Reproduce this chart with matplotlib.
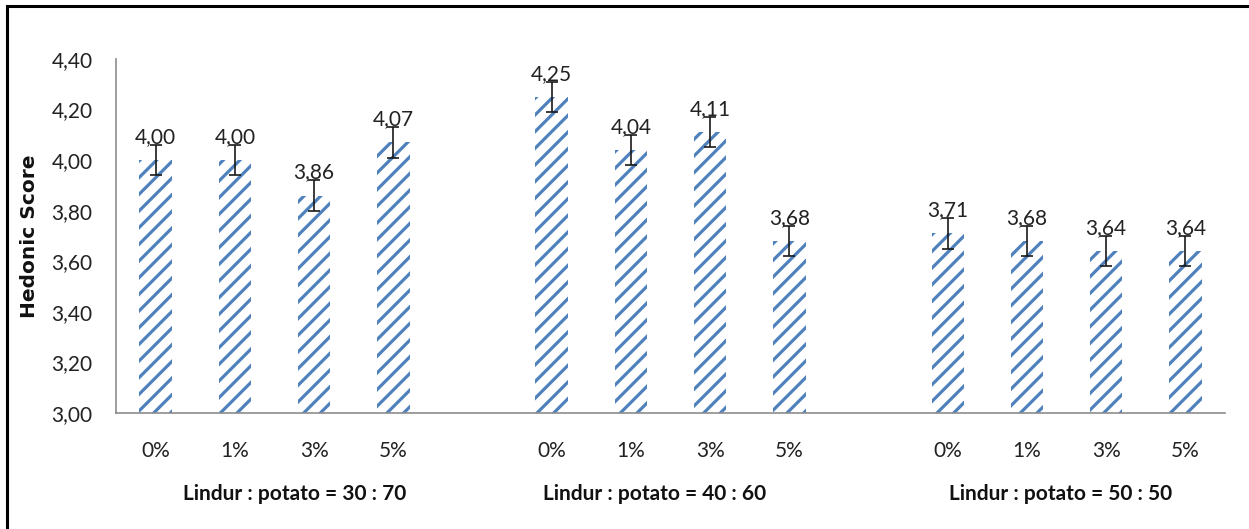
import numpy as np
import matplotlib.pyplot as plt
import matplotlib.patches as mpatches

# data
groups = ["Lindur : potato = 30 : 70", "Lindur : potato = 40 : 60", "Lindur : potato = 50 : 50"]
levels = ["0%", "1%", "3%", "5%"]
scores = [
    [4.00, 4.00, 3.86, 4.07],
    [4.25, 4.04, 4.11, 3.68],
    [3.71, 3.68, 3.64, 3.64],
]
errors = [
    [0.06, 0.06, 0.06, 0.06],
    [0.06, 0.06, 0.06, 0.06],
    [0.06, 0.06, 0.06, 0.06],
]
yticks = [3.00, 3.20, 3.40, 3.60, 3.80, 4.00, 4.20, 4.40]

# style
bar_color = "#4f81bd"
plt.rcParams["font.family"] = ["Lato", "DejaVu Sans"]
plt.rcParams["hatch.linewidth"] = 2.3
plt.rcParams["hatch.color"] = bar_color

fig = plt.figure(figsize=(12.49, 5.29), dpi=100)
ax = fig.add_axes([0.0929, 0.2193, 0.8879, 0.6692])

# outer frame (only left/top visible in the original)
fig.patches.append(mpatches.Rectangle((7 / 1249, -0.1), 1.2, 1 - 6 / 529 + 0.1,
                                      transform=fig.transFigure, fill=False,
                                      edgecolor="black", linewidth=2.2))

slot = 5  # 4 bars + 1 gap per group
xs, vals, errs, labs = [], [], [], []
for g, (row, erow) in enumerate(zip(scores, errors)):
    for i, (v, e) in enumerate(zip(row, erow)):
        xs.append(g * slot + i)
        vals.append(v)
        errs.append(e)
        labs.append(levels[i])

ax.bar(xs, np.array(vals) - 3.0, bottom=3.0, width=0.41, color="white",
       edgecolor=bar_color, linewidth=0, hatch="//")
ax.errorbar(xs, vals, yerr=errs, fmt="none", ecolor="#1a1a1a",
            elinewidth=1.2, capsize=4.5, capthick=1.2)

for x, v, e in zip(xs, vals, errs):
    ax.text(x, v + e - 0.008, f"{v:.2f}".replace(".", ","), ha="center",
            va="bottom", fontsize=15, color="#222222")

ax.set_xlim(-0.5, 13.5)
ax.set_ylim(3.0, 4.4)
ax.set_xticks(xs)
ax.set_xticklabels(labs, fontsize=15)
ax.set_yticks(yticks)
ax.set_yticklabels([f"{t:.2f}".replace(".", ",") for t in yticks], fontsize=15)
ax.tick_params(axis="both", length=0, colors="#222222")
ax.tick_params(axis="x", pad=20)
ax.tick_params(axis="y", pad=17)

for s in ["top", "right"]:
    ax.spines[s].set_visible(False)
for s in ["left", "bottom"]:
    ax.spines[s].set_color("#8c8c8c")
    ax.spines[s].set_linewidth(1.2)

fig.text(30 / 1249, 1 - 236 / 529, "Hedonic Score", rotation=90, ha="center",
         va="center", fontsize=14.5, fontweight="bold", family="DejaVu Sans",
         color="#111111")

# group captions
group_label_x = [1.75, 6.3, 11.43]
for gx, name in zip(group_label_x, groups):
    ax.text(gx, -0.23, name, transform=ax.get_xaxis_transform(), ha="center",
            va="center", fontsize=15, fontweight="bold", color="#111111")

fig.savefig("out.png", dpi=100)
